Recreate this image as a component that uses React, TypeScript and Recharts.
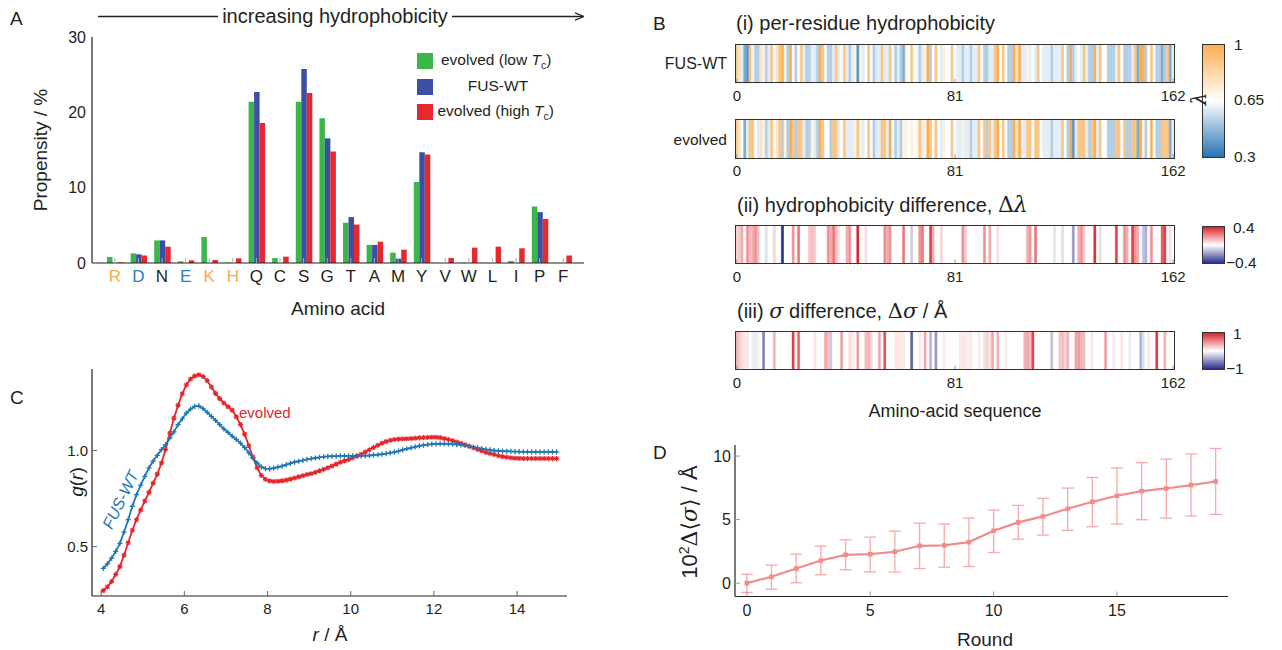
import React from 'react';
import { BarChart, Bar, XAxis, YAxis, Cell, LineChart, Line, ErrorBar } from 'recharts';

const FONT = '"Liberation Sans", Arial, Helvetica, sans-serif';
const INK = '#231f20';

// ---------------- Panel A data ----------------
const aminoAcids = ['R', 'D', 'N', 'E', 'K', 'H', 'Q', 'C', 'S', 'G', 'T', 'A', 'M', 'Y', 'V', 'W', 'L', 'I', 'P', 'F'];
const positiveResidues = ['R', 'K', 'H'];
const negativeResidues = ['D', 'E'];
const propensityLowTc = [0.8, 1.28, 3.0, 0.22, 3.45, 0.05, 21.4, 0.66, 21.4, 19.2, 5.35, 2.4, 1.37, 10.75, 0, 0.05, 0, 0.27, 7.5, 0];
const propensityWT = [0, 1.15, 3.0, 0, 0, 0, 22.7, 0, 25.75, 16.55, 6.1, 2.4, 0.58, 14.7, 0, 0, 0, 0, 6.75, 0];
const propensityHighTc = [0.1, 1.0, 2.17, 0.35, 0.4, 0.62, 18.6, 0.84, 22.55, 14.8, 5.1, 2.83, 1.77, 14.4, 0.66, 2.04, 2.17, 1.95, 5.85, 1.0];
const propensityTicks = [0, 10, 20, 30];

// ---------------- Panel B data ----------------
const wtSequence =
  'MASNDYTQQATQSYGAYPTQPGQGYSQQSSQPYGQQSYSGYSQSTDTSGYGQSSYSSYGQSQNTGYGTQSTPQGYGSTGGYGSSQSSQSSYGQQSSYPGYGQQPAPSSTSGSYGSSSQSSSYGQPQSGSYSQQPSYGGQQQSYGQQQSYNPPQGYGQQNQYNS';
const evolvedSequence =
  'MAGNSYYGSA' + 'TQSYGAYQTQ' + 'PYQYYSQQTS' + 'QPYGGQYYSG' + 'YSSSTYTSGY' + 'GQSSYYSPGQ' + 'SQTTGTGTYS' + 'TPYGYGSTGG' +
  'YGSSTSSQSS' + 'YGYQYSYPGY' + 'GQQPAPSSYY' + 'GYYGSSSQSS' + 'SYGQPDSYYY' + 'SQYPSYGGQQ' + 'QYYGYQQYYN' + 'PTQGPGQQYY' + 'YNS';
// hydrophobicity scale lambda per residue
const lambdaScale: Record<string, number> = {
  A: 0.73, R: 0.0, N: 0.432, D: 0.378, C: 0.595, Q: 0.514, E: 0.459, G: 0.649, H: 0.514, I: 0.973,
  L: 0.973, K: 0.514, M: 0.838, F: 1.0, P: 1.0, S: 0.595, T: 0.676, W: 0.946, Y: 0.865, V: 0.892,
};
// sparse per-position differences [position, value]
const deltaLambdaChanges: [number, number][] = [
  [0, 0.08], [1, 0.1], [2, 0.15], [4, 0.2], [5, 0.12], [6, 0.15], [7, 0.2], [8, 0.12], [11, -0.06], [14, 0.08],
  [17, -0.4], [21, 0.2], [23, 0.25], [27, 0.1], [28, 0.12], [29, 0.1], [34, 0.2], [35, 0.15], [36, 0.25], [37, 0.12],
  [38, 0.05], [41, 0.15], [42, 0.2], [45, 0.45], [48, 0.06], [55, 0.2], [56, 0.15], [57, 0.2], [62, 0.25], [65, -0.1],
  [68, 0.2], [69, 0.25], [72, 0.35], [73, 0.15], [76, 0.08], [84, 0.2], [85, 0.1], [92, 0.2], [94, 0.15], [97, 0.06],
  [108, 0.15], [109, 0.2], [111, 0.25], [118, -0.05], [121, -0.06], [125, -0.2], [127, 0.15], [128, 0.2], [129, 0.1],
  [133, 0.38], [135, -0.06], [141, 0.35], [144, 0.2], [145, 0.15], [147, 0.35], [148, 0.2], [149, 0.15], [151, -0.12],
  [152, -0.15], [154, 0.2], [158, 0.3], [159, 0.35], [161, 0.06],
];
const deltaSigmaChanges: [number, number][] = [
  [0, 0.35], [1, 0.25], [2, 0.15], [3, 0.1], [4, 0.12], [6, -0.08], [7, -0.1], [8, -0.06], [10, -0.6], [14, 0.35],
  [21, 0.9], [23, 0.7], [29, 0.12], [33, 0.4], [34, 0.3], [35, -0.25], [39, 0.45], [42, 0.15], [43, 0.12], [45, 0.45],
  [48, 0.3], [49, 0.35], [50, 0.2], [53, 0.4], [55, 0.8], [59, 0.1], [60, 0.12], [61, 0.08], [62, 0.1], [65, -0.75],
  [68, 0.12], [70, 0.4], [72, -0.35], [74, -0.5], [77, 0.1], [83, 0.1], [84, 0.12], [85, 0.1], [86, 0.08], [87, 0.1],
  [90, -0.08], [92, 0.15], [93, 0.2], [94, 0.12], [95, 0.4], [97, 0.35], [100, 0.1], [107, 0.35], [108, 0.4], [109, 0.3],
  [110, 0.85], [117, -0.3], [120, 0.25], [121, 0.3], [122, 0.2], [123, 0.35], [126, 0.4], [127, 0.45], [128, 0.35],
  [129, 0.3], [132, 0.12], [137, 0.45], [140, 0.1], [143, 0.12], [146, -0.1], [150, -0.35], [151, -0.15], [153, 0.1],
  [156, 0.9], [159, 0.35],
];
const stripTicks = [0, 81, 162];

// ---------------- Panel C data ----------------
const radii = [
  4.05, 4.15, 4.25, 4.35, 4.45, 4.55, 4.65, 4.75, 4.85, 4.95,
  5.05, 5.15, 5.25, 5.35, 5.45, 5.55, 5.65, 5.75, 5.85, 5.95,
  6.05, 6.15, 6.25, 6.35, 6.45, 6.55, 6.65, 6.75, 6.85, 6.95,
  7.05, 7.15, 7.25, 7.35, 7.45, 7.55, 7.65, 7.75, 7.85, 7.95,
  8.05, 8.15, 8.25, 8.35, 8.45, 8.55, 8.65, 8.75, 8.85, 8.95,
  9.05, 9.15, 9.25, 9.35, 9.45, 9.55, 9.65, 9.75, 9.85, 9.95,
  10.05, 10.15, 10.25, 10.35, 10.45, 10.55, 10.65, 10.75, 10.85, 10.95,
  11.05, 11.15, 11.25, 11.35, 11.45, 11.55, 11.65, 11.75, 11.85, 11.95,
  12.05, 12.15, 12.25, 12.35, 12.45, 12.55, 12.65, 12.75, 12.85, 12.95,
  13.05, 13.15, 13.25, 13.35, 13.45, 13.55, 13.65, 13.75, 13.85, 13.95,
  14.05, 14.15, 14.25, 14.35, 14.45, 14.55, 14.65, 14.75, 14.85, 14.95,
];
const gFusWT = [
  0.387, 0.41, 0.44, 0.475, 0.517, 0.575, 0.64, 0.71, 0.77, 0.82,
  0.865, 0.91, 0.945, 0.975, 1.005, 1.03, 1.065, 1.097, 1.135, 1.165,
  1.195, 1.215, 1.23, 1.232, 1.218, 1.198, 1.178, 1.157, 1.135, 1.113,
  1.094, 1.075, 1.058, 1.038, 1.015, 0.988, 0.962, 0.935, 0.915, 0.906,
  0.904, 0.908, 0.913, 0.919, 0.926, 0.933, 0.939, 0.944, 0.949, 0.954,
  0.958, 0.961, 0.964, 0.967, 0.969, 0.97, 0.971, 0.972, 0.972, 0.972,
  0.972, 0.972, 0.972, 0.973, 0.974, 0.976, 0.978, 0.981, 0.984, 0.988,
  0.992, 0.997, 1.003, 1.009, 1.014, 1.019, 1.024, 1.028, 1.031, 1.033,
  1.034, 1.035, 1.035, 1.034, 1.033, 1.031, 1.029, 1.026, 1.022, 1.018,
  1.014, 1.01, 1.006, 1.003, 1.0, 0.998, 0.997, 0.996, 0.995, 0.994,
  0.994, 0.993, 0.993, 0.993, 0.993, 0.993, 0.993, 0.993, 0.993, 0.993,
];
const gEvolved = [
  0.271, 0.29, 0.318, 0.355, 0.396, 0.455, 0.52, 0.585, 0.64, 0.69,
  0.737, 0.782, 0.83, 0.877, 0.935, 1.005, 1.09, 1.168, 1.235, 1.295,
  1.342, 1.372, 1.388, 1.394, 1.385, 1.363, 1.33, 1.297, 1.27, 1.247,
  1.228, 1.21, 1.175, 1.135, 1.085, 1.025, 0.965, 0.91, 0.87, 0.85,
  0.842, 0.839, 0.84, 0.842, 0.846, 0.851, 0.857, 0.863, 0.869, 0.875,
  0.879, 0.886, 0.894, 0.902, 0.91, 0.919, 0.929, 0.939, 0.946, 0.953,
  0.962, 0.971, 0.98, 0.992, 1.004, 1.016, 1.027, 1.038, 1.046, 1.053,
  1.057, 1.059, 1.06, 1.061, 1.062, 1.064, 1.066, 1.067, 1.068, 1.069,
  1.069, 1.067, 1.062, 1.057, 1.051, 1.044, 1.037, 1.03, 1.022, 1.014,
  1.006, 0.998, 0.99, 0.984, 0.979, 0.973, 0.968, 0.965, 0.962, 0.96,
  0.959, 0.958, 0.958, 0.958, 0.958, 0.958, 0.958, 0.958, 0.958, 0.958,
];
const radiusTicks = [4, 6, 8, 10, 12, 14];
const gTicks = [0.5, 1.0];

// ---------------- Panel D data ----------------
const rounds = [0, 1, 2, 3, 4, 5, 6, 7, 8, 9, 10, 11, 12, 13, 14, 15, 16, 17, 18, 19];
const deltaSigmaMean = [0, 0.5, 1.15, 1.78, 2.23, 2.28, 2.47, 2.94, 2.97, 3.23, 4.12, 4.78, 5.25, 5.85, 6.4, 6.88, 7.24, 7.45, 7.72, 8.0];
const deltaSigmaErrLow = [0.73, 0.97, 1.12, 1.12, 1.18, 1.39, 1.6, 1.79, 1.71, 1.92, 1.71, 1.32, 1.47, 1.7, 1.96, 2.23, 2.25, 2.33, 2.44, 2.59];
const deltaSigmaErrHigh = [0.7, 0.92, 1.13, 1.13, 1.18, 1.34, 1.62, 1.78, 1.68, 1.89, 1.63, 1.34, 1.42, 1.63, 1.92, 2.18, 2.24, 2.31, 2.44, 2.6];
const roundTicks = [0, 5, 10, 15];
const deltaTicks = [0, 5, 10];

// ---------------- colours ----------------
const GREEN = '#3cb54a';
const BLUE_BAR = '#3d4fa2';
const RED_BAR = '#e8282e';
const ORANGE_LABEL = '#f7ab4f';
const BLUE_LABEL = '#2a7cbf';
const C_BLUE = '#1f77b4';
const C_RED = '#e3262b';
const D_PINK = '#f28b8b';
const D_PINK_LIGHT = '#f6a9a9';

type RGB = [number, number, number];
const WHITE: RGB = [255, 255, 255];
const LAMBDA_LOW: RGB = [38, 116, 181];
const LAMBDA_HIGH: RGB = [251, 174, 82];
const DIFF_POS: RGB = [220, 36, 42];
const DIFF_NEG: RGB = [42, 46, 140];

function mix(a: RGB, b: RGB, t: number) {
  return `rgb(${Math.round(a[0] + (b[0] - a[0]) * t)},${Math.round(a[1] + (b[1] - a[1]) * t)},${Math.round(a[2] + (b[2] - a[2]) * t)})`;
}
function lambdaColor(v: number) {
  const mid = 0.65;
  const half = 0.35;
  return v >= mid
    ? mix(WHITE, LAMBDA_HIGH, Math.pow(Math.min(1, (v - mid) / half), 0.7))
    : mix(WHITE, LAMBDA_LOW, Math.pow(Math.min(1, (mid - v) / half), 1.1));
}
function diffColor(range: number) {
  return (v: number) => (v >= 0 ? mix(WHITE, DIFF_POS, Math.min(1, v / range)) : mix(WHITE, DIFF_NEG, Math.min(1, -v / range)));
}

// ---------------- tables for the library ----------------
const dataA = aminoAcids.map((aa, i) => ({ aa, low: propensityLowTc[i], wt: propensityWT[i], high: propensityHighTc[i] }));
const wtLambda = wtSequence.split('').map((a) => lambdaScale[a]);
const evolvedLambda = evolvedSequence.split('').map((a) => lambdaScale[a]);
const expandChanges = (changes: [number, number][]) => {
  const m = new Map(changes);
  return wtSequence.split('').map((_, i) => m.get(i) ?? 0);
};
const deltaLambda = expandChanges(deltaLambdaChanges);
const deltaSigma = expandChanges(deltaSigmaChanges);
const dataC = radii.map((r, i) => ({ r, wt: gFusWT[i], ev: gEvolved[i] }));
const dataD = rounds.map((round, i) => ({ round, v: deltaSigmaMean[i], err: [deltaSigmaErrLow[i], deltaSigmaErrHigh[i]] }));

// ---------------- helpers ----------------
function Txt({
  x, y, children, size = 16, anchor = 'start', color = INK, rot = 0, italic = false, family = FONT,
}: {
  x: number; y: number; children: React.ReactNode; size?: number; anchor?: 'start' | 'middle' | 'end';
  color?: string; rot?: number; italic?: boolean; family?: string;
}) {
  const tx = anchor === 'start' ? '0%' : anchor === 'middle' ? '-50%' : '-100%';
  return (
    <div
      style={{
        position: 'absolute', left: x, top: y, transform: `translate(${tx}, -50%) rotate(${rot}deg)`,
        fontSize: size, fontFamily: family, color, whiteSpace: 'nowrap', lineHeight: 1,
        fontStyle: italic ? 'italic' : 'normal',
      }}
    >
      {children}
    </div>
  );
}

const AminoTick = (props: any) => {
  const { x, y, payload } = props;
  const v = payload.value as string;
  const fill = positiveResidues.includes(v) ? ORANGE_LABEL : negativeResidues.includes(v) ? BLUE_LABEL : INK;
  return (
    <text x={x} y={y} dy="0.71em" textAnchor="middle" fill={fill} fontSize={17} fontFamily={FONT}>
      {v}
    </text>
  );
};

const blank = () => '';
const tickFont = (size: number) => ({ fill: INK, fontSize: size, fontFamily: FONT });

const PlusDot = (props: any) => {
  const { cx, cy } = props;
  if (cx == null || cy == null) return <g />;
  return <path d={`M${cx - 2.6},${cy}H${cx + 2.6}M${cx},${cy - 2.6}V${cy + 2.6}`} stroke={C_BLUE} strokeWidth={1.3} fill="none" />;
};
const StarDot = (props: any) => {
  const { cx, cy } = props;
  if (cx == null || cy == null) return <g />;
  return (
    <path
      d={`M${cx - 2.6},${cy}H${cx + 2.6}M${cx},${cy - 2.6}V${cy + 2.6}M${cx - 1.9},${cy - 1.9}L${cx + 1.9},${cy + 1.9}M${cx - 1.9},${cy + 1.9}L${cx + 1.9},${cy - 1.9}`}
      stroke={C_RED} strokeWidth={1.1} fill="none"
    />
  );
};
const SquareDot = (props: any) => {
  const { cx, cy } = props;
  if (cx == null || cy == null) return <g />;
  return <rect x={cx - 2.3} y={cy - 2.3} width={4.6} height={4.6} fill={D_PINK} />;
};

function SequenceStrip({ values, colorOf, top, bottom }: { values: number[]; colorOf: (v: number) => string; top: number; bottom: number }) {
  const data = values.map((v, i) => ({ i, h: 1, fill: colorOf(v) }));
  const plotH = bottom - top;
  return (
    <div style={{ position: 'absolute', left: 700, top: top - 10 }}>
      <BarChart width={500} height={plotH + 40} data={data} margin={{ top: 10, right: 25.5, bottom: 0, left: 35.5 }} barCategoryGap={0} barGap={0}>
        <XAxis dataKey="i" ticks={stripTicks} interval={0} height={30} tickSize={-4} tickMargin={11.8} axisLine={false} tickLine={{ stroke: '#999' }} tick={tickFont(15)} />
        <XAxis xAxisId="t" dataKey="i" orientation="top" ticks={stripTicks} interval={0} height={0} tickSize={-4} axisLine={false} tickLine={{ stroke: '#999' }} tickFormatter={blank} />
        <YAxis hide domain={[0, 1]} />
        <Bar dataKey="h" barSize={2.69} isAnimationActive={false}>
          {data.map((d) => (
            <Cell key={d.i} fill={d.fill} stroke={d.fill} strokeWidth={0.4} />
          ))}
        </Bar>
      </BarChart>
      <div style={{ position: 'absolute', left: 34.8, top: 9.3, width: 440.4, height: plotH + 1.4, border: '1.3px solid #333', boxSizing: 'border-box', pointerEvents: 'none' }} />
    </div>
  );
}

function ColorBar({ top, bottom, gradient }: { top: number; bottom: number; gradient: string }) {
  return (
    <div style={{ position: 'absolute', left: 1202, top, width: 23, height: bottom - top, background: gradient, border: '1.2px solid #333', boxSizing: 'border-box' }} />
  );
}

const lambdaGradient = `linear-gradient(to bottom, ${mix(WHITE, LAMBDA_HIGH, 1)}, #ffffff 50%, ${mix(WHITE, LAMBDA_LOW, 1)})`;
const diffGradient = `linear-gradient(to bottom, ${mix(WHITE, DIFF_POS, 1)}, #ffffff 50%, ${mix(WHITE, DIFF_NEG, 1)})`;

const serif = '"DejaVu Serif", "Liberation Serif", serif';

export default function App() {
  return (
    <div style={{ position: 'absolute', left: 0, top: 0, width: 1282, height: 650, background: '#fff', overflow: 'hidden', fontFamily: FONT }}>
      {/* ---------------- Panel A ---------------- */}
      <div style={{ position: 'absolute', left: 0, top: 0 }}>
        <BarChart width={600} height={300} data={dataA} margin={{ top: 37, right: 16, bottom: 7, left: 32 }} barGap={0}>
          <XAxis dataKey="aa" interval={0} padding={{ left: 11, right: 9 }} height={30} tickSize={-5} tickMargin={12.3} tickLine={{ stroke: '#aaa' }} axisLine={{ stroke: INK, strokeWidth: 1.2 }} tick={<AminoTick />} />
          <XAxis xAxisId="top" dataKey="aa" orientation="top" interval={0} padding={{ left: 11, right: 9 }} height={0} tickSize={-5} tickLine={{ stroke: '#888' }} axisLine={{ stroke: INK, strokeWidth: 1.2 }} tickFormatter={blank} />
          <YAxis domain={[0, 30]} ticks={propensityTicks} width={60} tickLine={false} tickSize={0} tickMargin={6} axisLine={{ stroke: INK, strokeWidth: 1.2 }} tick={tickFont(16)} allowDataOverflow />
          <YAxis yAxisId="right" orientation="right" domain={[0, 30]} ticks={[10, 20]} width={0} tickSize={-5} tickLine={{ stroke: '#888' }} axisLine={{ stroke: INK, strokeWidth: 1.2 }} tickFormatter={blank} allowDataOverflow />
          <Bar dataKey="low" fill={GREEN} barSize={5.5} isAnimationActive={false} />
          <Bar dataKey="wt" fill={BLUE_BAR} barSize={5.5} isAnimationActive={false} />
          <Bar dataKey="high" fill={RED_BAR} barSize={5.5} isAnimationActive={false} />
        </BarChart>
      </div>
      <svg style={{ position: 'absolute', left: 0, top: 0 }} width={600} height={30}>
        <line x1={98} y1={16.5} x2={218} y2={16.5} stroke={INK} strokeWidth={1.3} />
        <line x1={452} y1={16.5} x2={583} y2={16.5} stroke={INK} strokeWidth={1.3} />
        <path d="M584,16.5 L575,12.8 M584,16.5 L575,20.2" stroke={INK} strokeWidth={1.3} fill="none" />
      </svg>
      <Txt x={335} y={16} anchor="middle" size={20}>increasing hydrophobicity</Txt>
      <Txt x={10} y={18} size={19}>A</Txt>
      <Txt x={40} y={150} anchor="middle" size={19} rot={-90}>Propensity / %</Txt>
      <Txt x={338} y={308} anchor="middle" size={19}>Amino acid</Txt>
      {/* legend */}
      <div style={{ position: 'absolute', left: 417, top: 53, width: 15.5, height: 15.5, background: GREEN }} />
      <div style={{ position: 'absolute', left: 417, top: 79, width: 15.5, height: 15.5, background: BLUE_BAR }} />
      <div style={{ position: 'absolute', left: 417, top: 104, width: 15.5, height: 15.5, background: RED_BAR }} />
      <Txt x={441} y={61} size={15.5}>
        evolved (low <i>T</i><sub style={{ fontSize: 10.5 }}>c</sub>)
      </Txt>
      <Txt x={498} y={86} anchor="middle" size={15.5}>FUS-WT</Txt>
      <Txt x={437.5} y={112} size={15.5}>
        evolved (high <i>T</i><sub style={{ fontSize: 10.5 }}>c</sub>)
      </Txt>

      {/* ---------------- Panel B ---------------- */}
      <Txt x={653} y={23} size={19}>B</Txt>
      <Txt x={736} y={23} size={20}>(i) per-residue hydrophobicity</Txt>
      <SequenceStrip values={wtLambda} colorOf={lambdaColor} top={44.5} bottom={82.5} />
      <SequenceStrip values={evolvedLambda} colorOf={lambdaColor} top={120} bottom={158} />
      <Txt x={727} y={64} anchor="end" size={16}>FUS-WT</Txt>
      <Txt x={727} y={140} anchor="end" size={15.5}>evolved</Txt>
      <ColorBar top={44} bottom={158} gradient={lambdaGradient} />
      <Txt x={1234} y={45} size={15.5}>1</Txt>
      <Txt x={1234} y={100} size={15.5}>0.65</Txt>
      <Txt x={1234} y={157} size={15.5}>0.3</Txt>
      <Txt x={1199} y={99} anchor="middle" size={20} rot={-90} italic family={serif}>λ</Txt>

      <Txt x={737} y={205} size={20}>
        (ii) hydrophobicity difference, <span style={{ fontFamily: serif, fontSize: 22 }}>Δ<i>λ</i></span>
      </Txt>
      <SequenceStrip values={deltaLambda} colorOf={diffColor(0.4)} top={226} bottom={263.5} />
      <ColorBar top={226} bottom={264} gradient={diffGradient} />
      <Txt x={1233} y={228} size={15.5}>0.4</Txt>
      <Txt x={1226} y={263} size={15.5}>−0.4</Txt>

      <Txt x={737} y={311} size={20}>
        (iii) <i style={{ fontFamily: serif, fontSize: 21 }}>σ</i> difference, <span style={{ fontFamily: serif, fontSize: 21 }}>Δ<i>σ</i></span> / Å
      </Txt>
      <SequenceStrip values={deltaSigma} colorOf={diffColor(1)} top={332} bottom={369.5} />
      <ColorBar top={332} bottom={370} gradient={diffGradient} />
      <Txt x={1233} y={334} size={15.5}>1</Txt>
      <Txt x={1226} y={369} size={15.5}>−1</Txt>
      <Txt x={955} y={411} anchor="middle" size={18}>Amino-acid sequence</Txt>

      {/* ---------------- Panel C ---------------- */}
      <div style={{ position: 'absolute', left: 0, top: 350 }}>
        <LineChart width={600} height={300} data={dataC} margin={{ top: 19, right: 33, bottom: 24, left: 32 }}>
          <XAxis dataKey="r" type="number" domain={[3.78, 15.2]} ticks={radiusTicks} allowDataOverflow height={30} tickSize={-5} tickMargin={12} tickLine={{ stroke: '#666' }} axisLine={{ stroke: INK, strokeWidth: 1.2 }} tick={tickFont(15)} />
          <XAxis xAxisId="t" dataKey="r" type="number" orientation="top" domain={[3.78, 15.2]} ticks={radiusTicks} allowDataOverflow height={0} tickSize={-5} tickLine={{ stroke: '#666' }} axisLine={{ stroke: INK, strokeWidth: 1.2 }} tickFormatter={blank} />
          <YAxis domain={[0.243, 1.424]} ticks={gTicks} allowDataOverflow width={60} tickSize={-5} tickMargin={9} tickLine={{ stroke: '#666' }} axisLine={{ stroke: INK, strokeWidth: 1.2 }} tick={tickFont(15)} tickFormatter={(v: number) => v.toFixed(1)} />
          <YAxis yAxisId="r" orientation="right" domain={[0.243, 1.424]} ticks={gTicks} allowDataOverflow width={0} tickSize={-5} tickLine={{ stroke: '#666' }} axisLine={{ stroke: INK, strokeWidth: 1.2 }} tickFormatter={blank} />
          <Line type="linear" dataKey="ev" stroke={C_RED} strokeWidth={1.8} dot={StarDot} activeDot={false} isAnimationActive={false} />
          <Line type="linear" dataKey="wt" stroke={C_BLUE} strokeWidth={1.8} dot={PlusDot} activeDot={false} isAnimationActive={false} />
        </LineChart>
      </div>
      <Txt x={10} y={397} size={19}>C</Txt>
      <Txt x={239} y={412} size={15} color={C_RED}>evolved</Txt>
      <Txt x={121} y={500} anchor="middle" size={16} color={C_BLUE} rot={-64} italic>FUS-WT</Txt>
      <Txt x={76} y={482} anchor="middle" size={19} rot={-90}>
        <i>g</i>(<i>r</i>)
      </Txt>
      <Txt x={330} y={634} anchor="middle" size={19}>
        <i>r</i> / Å
      </Txt>

      {/* ---------------- Panel D ---------------- */}
      <div style={{ position: 'absolute', left: 650, top: 420 }}>
        <LineChart width={620} height={230} data={dataD} margin={{ top: 25, right: 42, bottom: 23.5, left: 35 }}>
          <XAxis dataKey="round" type="number" domain={[-0.48, 19.5]} ticks={roundTicks} allowDataOverflow height={30} tickSize={-5} tickMargin={13.5} tickLine={{ stroke: '#999' }} axisLine={{ stroke: INK, strokeWidth: 1.2 }} tick={tickFont(16)} />
          <XAxis xAxisId="t" dataKey="round" type="number" orientation="top" domain={[-0.48, 19.5]} ticks={roundTicks} allowDataOverflow height={0} tickSize={-5} tickLine={{ stroke: '#999' }} axisLine={{ stroke: INK, strokeWidth: 1.2 }} tickFormatter={blank} />
          <YAxis domain={[-1.05, 10.87]} ticks={deltaTicks} allowDataOverflow width={50} tickSize={-5} tickMargin={9} tickLine={{ stroke: '#999' }} axisLine={{ stroke: INK, strokeWidth: 1.2 }} tick={tickFont(16)} />
          <YAxis yAxisId="r" orientation="right" domain={[-1.05, 10.87]} ticks={deltaTicks} allowDataOverflow width={0} tickSize={-5} tickLine={{ stroke: '#999' }} axisLine={{ stroke: INK, strokeWidth: 1.2 }} tickFormatter={blank} />
          <Line type="linear" dataKey="v" stroke={D_PINK} strokeWidth={2.2} dot={SquareDot} activeDot={false} isAnimationActive={false}>
            <ErrorBar dataKey="err" direction="y" width={6} stroke={D_PINK_LIGHT} strokeWidth={1.3} />
          </Line>
        </LineChart>
      </div>
      <Txt x={653} y={452} size={19}>D</Txt>
      <Txt x={985} y={639} anchor="middle" size={19}>Round</Txt>
      <Txt x={689} y={522} anchor="middle" size={22} rot={-90}>
        10<sup style={{ fontSize: 14 }}>2</sup>
        <span style={{ fontFamily: serif }}>Δ⟨<i>σ</i>⟩</span> / Å
      </Txt>
    </div>
  );
}
